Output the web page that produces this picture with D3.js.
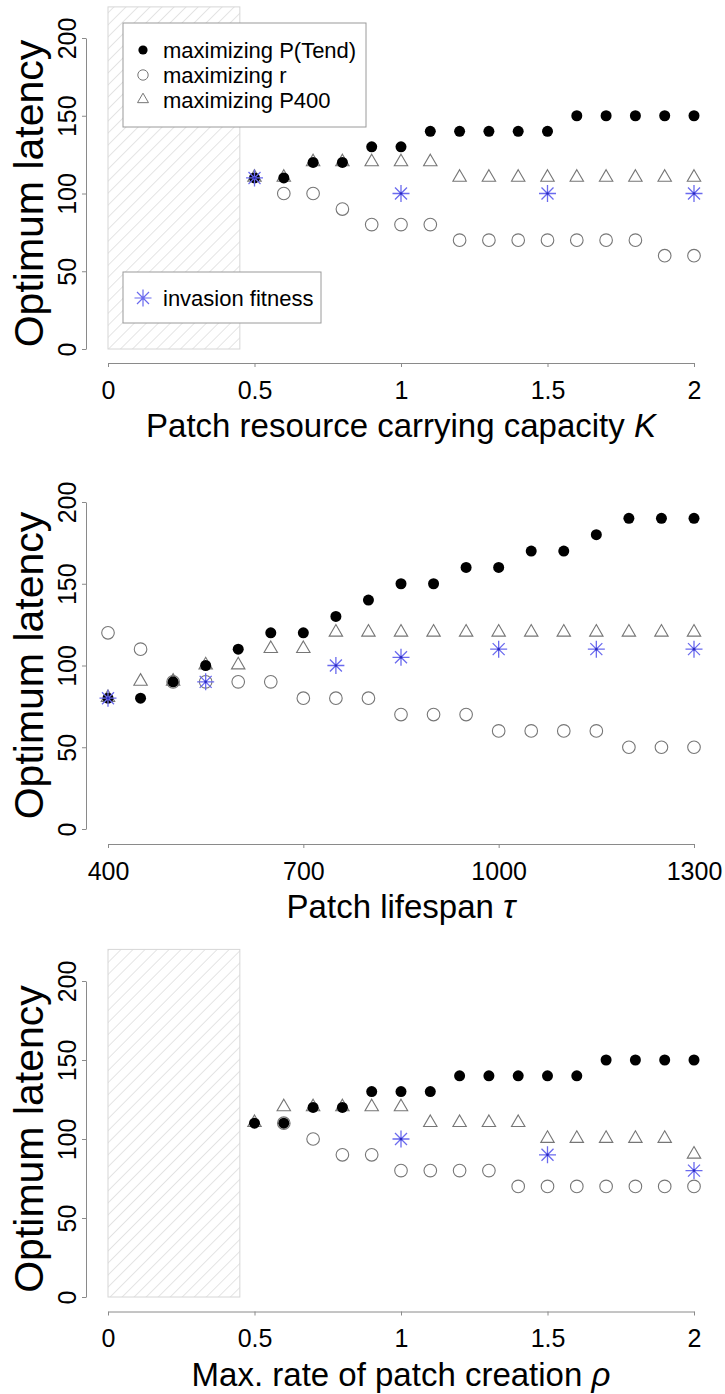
<!DOCTYPE html>
<html>
<head>
<meta charset="utf-8">
<script src="https://cdn.jsdelivr.net/npm/d3@7"></script>
<style>
  body { margin: 0; background: #fff; }
  svg { display: block; }
  text { font-family: "Liberation Sans", Arial, Helvetica, sans-serif; }
</style>
</head>
<body>
<svg id="chart" width="725" height="1394"></svg>
<script>
// ---- Panel A: patch resource carrying capacity K ----
const kValues   = [0.5, 0.6, 0.7, 0.8, 0.9, 1.0, 1.1, 1.2, 1.3, 1.4, 1.5, 1.6, 1.7, 1.8, 1.9, 2.0];
const kTend     = [110, 110, 120, 120, 130, 130, 140, 140, 140, 140, 140, 150, 150, 150, 150, 150];
const kR        = [null, 100, 100, 90, 80, 80, 80, 70, 70, 70, 70, 70, 70, 70, 60, 60];
const kP400     = [110, 110, 120, 120, 120, 120, 120, 110, 110, 110, 110, 110, 110, 110, 110, 110];
const kInvX     = [0.5, 1.0, 1.5, 2.0];
const kInvY     = [110, 100, 100, 100];
const kTicks    = [0, 0.5, 1, 1.5, 2];

// ---- Panel B: patch lifespan tau ----
const tauValues = [400, 450, 500, 550, 600, 650, 700, 750, 800, 850, 900, 950, 1000, 1050, 1100, 1150, 1200, 1250, 1300];
const tauTend   = [80, 80, 90, 100, 110, 120, 120, 130, 140, 150, 150, 160, 160, 170, 170, 180, 190, 190, 190];
const tauR      = [120, 110, 90, 90, 90, 90, 80, 80, 80, 70, 70, 70, 60, 60, 60, 60, 50, 50, 50];
const tauP400   = [80, 90, 90, 100, 100, 110, 110, 120, 120, 120, 120, 120, 120, 120, 120, 120, 120, 120, 120];
const tauInvX   = [400, 550, 750, 850, 1000, 1150, 1300];
const tauInvY   = [80, 90, 100, 105, 110, 110, 110];
const tauTicks  = [400, 700, 1000, 1300];

// ---- Panel C: max. rate of patch creation rho ----
const rhoValues = [0.5, 0.6, 0.7, 0.8, 0.9, 1.0, 1.1, 1.2, 1.3, 1.4, 1.5, 1.6, 1.7, 1.8, 1.9, 2.0];
const rhoTend   = [110, 110, 120, 120, 130, 130, 130, 140, 140, 140, 140, 140, 150, 150, 150, 150];
const rhoR      = [null, 110, 100, 90, 90, 80, 80, 80, 80, 70, 70, 70, 70, 70, 70, 70];
const rhoP400   = [110, 120, 120, 120, 120, 120, 110, 110, 110, 110, 100, 100, 100, 100, 100, 90];
const rhoInvX   = [1.0, 1.5, 2.0];
const rhoInvY   = [100, 90, 80];
const rhoTicks  = [0, 0.5, 1, 1.5, 2];

const yTicks = [0, 50, 100, 150, 200];
const legendMain = ["maximizing P(Tend)", "maximizing r", "maximizing P400"];
const legendInv  = "invasion fitness";
const yTitle = "Optimum latency";

const svg = d3.select("#chart");

// diagonal hatching for the excluded parameter range
const defs = svg.append("defs");
defs.append("pattern")
  .attr("id", "hatch")
  .attr("patternUnits", "userSpaceOnUse")
  .attr("width", 8.5).attr("height", 8.5)
  .attr("patternTransform", "rotate(45)")
  .append("line")
  .attr("x1", 0).attr("y1", 0).attr("x2", 0).attr("y2", 8.5)
  .attr("stroke", "#cfcfcf").attr("stroke-width", 1.1);

const AXIS_COL = "#8a8a8a";
const PT_COL = "#767676";
const STAR_COL = "#6a6aee";
const starPath = "M-8.5,0H8.5M0,-8.5V8.5M-6,-6L6,6M-6,6L6,-6";
const triSym = d3.symbol(d3.symbolTriangle, 78);
const triSymSmall = d3.symbol(d3.symbolTriangle, 52);

function zip(xs, ys) {
  return xs.map((v, i) => ({ x: v, y: ys[i] })).filter(d => d.y !== null);
}

const panels = [
  { xs: kValues, tend: kTend, r: kR, p400: kP400, invX: kInvX, invY: kInvY,
    xDomain: [0, 2], xTicks: kTicks, y0: 349, y200: 38, axisY: 363,
    hatch: true, legend: true,
    title: ["Patch resource carrying capacity ", "K"] },
  { xs: tauValues, tend: tauTend, r: tauR, p400: tauP400, invX: tauInvX, invY: tauInvY,
    xDomain: [400, 1300], xTicks: tauTicks, y0: 829, y200: 502, axisY: 844,
    hatch: false, legend: false,
    title: ["Patch lifespan ", "\u03C4"] },
  { xs: rhoValues, tend: rhoTend, r: rhoR, p400: rhoP400, invX: rhoInvX, invY: rhoInvY,
    xDomain: [0, 2], xTicks: rhoTicks, y0: 1297, y200: 981, axisY: 1311.5,
    hatch: true, legend: false,
    title: ["Max. rate of patch creation ", "\u03C1"] }
];

panels.forEach(p => {
  const x = d3.scaleLinear().domain(p.xDomain).range([108, 694]);
  const y = d3.scaleLinear().domain([0, 200]).range([p.y0, p.y200]);
  const g = svg.append("g");

  if (p.hatch) {
    g.append("rect")
      .attr("x", x(0)).attr("y", y(220))
      .attr("width", x(0.45) - x(0)).attr("height", y(0) - y(220))
      .attr("fill", "url(#hatch)")
      .attr("stroke", "#d6d6d6").attr("stroke-width", 1);
  }

  // x axis
  const xAxis = d3.axisBottom(x)
    .tickValues(p.xTicks)
    .tickSize(4).tickSizeOuter(0).tickPadding(14)
    .tickFormat(d3.format("~g"));
  const gx = g.append("g").attr("transform", `translate(0,${p.axisY})`).call(xAxis);
  gx.selectAll("path, line").attr("stroke", AXIS_COL);
  gx.selectAll("text").attr("font-size", 25).attr("fill", "#000")
    .attr("font-family", "'Liberation Sans', Arial, sans-serif");

  // y axis with labels parallel to the axis
  const yAxis = d3.axisLeft(y).tickValues(yTicks).tickSize(4).tickSizeOuter(0);
  const gy = g.append("g").attr("transform", "translate(86,0)").call(yAxis);
  gy.selectAll("path, line").attr("stroke", AXIS_COL);
  gy.selectAll("text")
    .attr("x", 0).attr("y", 0).attr("dy", null)
    .attr("text-anchor", "middle")
    .attr("transform", "translate(-10,0) rotate(-90)")
    .attr("font-size", 25).attr("fill", "#000")
    .attr("font-family", "'Liberation Sans', Arial, sans-serif");

  // axis titles
  const t = g.append("text")
    .attr("x", (x.range()[0] + x.range()[1]) / 2)
    .attr("y", p.axisY + 74)
    .attr("text-anchor", "middle")
    .attr("font-size", 33);
  t.append("tspan").text(p.title[0]);
  t.append("tspan").attr("font-style", "italic").text(p.title[1]);

  g.append("text")
    .attr("transform", `translate(43,${y(100)}) rotate(-90)`)
    .attr("text-anchor", "middle")
    .attr("font-size", 41)
    .text(yTitle);

  // maximizing r: open circles
  g.append("g").selectAll("circle").data(zip(p.xs, p.r)).join("circle")
    .attr("cx", d => x(d.x)).attr("cy", d => y(d.y)).attr("r", 6.3)
    .attr("fill", "none").attr("stroke", PT_COL).attr("stroke-width", 1.1);

  // maximizing P400: open triangles
  g.append("g").selectAll("path").data(zip(p.xs, p.p400)).join("path")
    .attr("d", triSym)
    .attr("transform", d => `translate(${x(d.x)},${y(d.y) - 0.5})`)
    .attr("fill", "none").attr("stroke", PT_COL).attr("stroke-width", 1.1);

  // maximizing P(Tend): filled circles
  g.append("g").selectAll("circle").data(zip(p.xs, p.tend)).join("circle")
    .attr("cx", d => x(d.x)).attr("cy", d => y(d.y)).attr("r", 5.5)
    .attr("fill", "#000");

  // invasion fitness: asterisks
  const st = g.append("g").selectAll("g").data(zip(p.invX, p.invY)).join("g")
    .attr("transform", d => `translate(${x(d.x)},${y(d.y)})`);
  st.append("path").attr("d", starPath)
    .attr("stroke", STAR_COL).attr("stroke-width", 1.3).attr("fill", "none");
  st.append("circle").attr("r", 1.3).attr("fill", "#2a2ac0");

  if (p.legend) {
    const lg = g.append("g");
    lg.append("rect").attr("x", 123).attr("y", 23).attr("width", 243).attr("height", 104)
      .attr("fill", "#fff").attr("stroke", "#9a9a9a").attr("stroke-width", 1);
    const rows = [50, 75, 100];
    lg.append("circle").attr("cx", 143).attr("cy", rows[0]).attr("r", 4.6).attr("fill", "#000");
    lg.append("circle").attr("cx", 143).attr("cy", rows[1]).attr("r", 5.2)
      .attr("fill", "none").attr("stroke", PT_COL).attr("stroke-width", 1);
    lg.append("path").attr("d", triSymSmall)
      .attr("transform", `translate(143,${rows[2] - 0.5})`)
      .attr("fill", "none").attr("stroke", PT_COL).attr("stroke-width", 1);
    legendMain.forEach((s, i) => {
      lg.append("text").attr("x", 163).attr("y", rows[i]).attr("dy", "0.36em")
        .attr("font-size", 22).text(s);
    });

    lg.append("rect").attr("x", 123).attr("y", 272).attr("width", 198).attr("height", 51)
      .attr("fill", "#fff").attr("stroke", "#9a9a9a").attr("stroke-width", 1);
    lg.append("path").attr("d", starPath)
      .attr("transform", "translate(143,298)")
      .attr("stroke", STAR_COL).attr("stroke-width", 1.2).attr("fill", "none");
    lg.append("text").attr("x", 163).attr("y", 298).attr("dy", "0.36em")
      .attr("font-size", 22).text(legendInv);
  }
});
</script>
</body>
</html>
